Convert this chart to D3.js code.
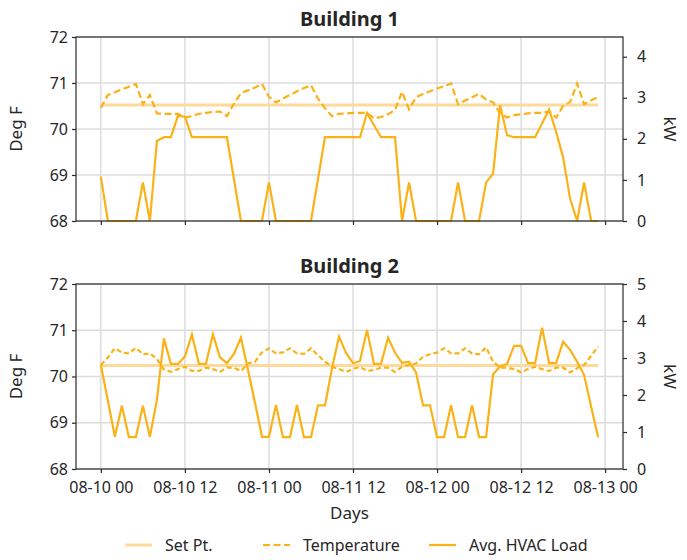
<!DOCTYPE html>
<html><head><meta charset="utf-8">
<script src="https://cdn.jsdelivr.net/npm/d3@7"></script>
<style>
body{margin:0;background:#fff}
text{font-family:"Noto Sans",sans-serif;fill:#262626}
</style>
</head><body>
<svg id="c" width="687" height="560"></svg>
<script>
// ---------- data ----------
const startTime = new Date(2021, 7, 10, 0, 0, 0); // 08-10 00, hourly samples
const xTickLabels = ["08-10 00", "08-10 12", "08-11 00", "08-11 12", "08-12 00", "08-12 12", "08-13 00"];
const titles = ["Building 1", "Building 2"];
const setPoint1 = 70.52;
const setPoint2 = 70.24;
const temp1 = [70.46,70.74,70.80,70.86,70.92,70.98,70.54,70.74,70.34,70.33,70.33,70.33,
  70.25,70.28,70.33,70.35,70.37,70.38,70.28,70.55,70.78,70.84,70.90,70.98,
  70.70,70.58,70.66,70.74,70.82,70.89,70.95,70.66,70.45,70.28,70.33,70.34,
  70.35,70.35,70.35,70.23,70.26,70.32,70.41,70.81,70.43,70.69,70.76,70.82,
  70.88,70.93,70.99,70.54,70.62,70.69,70.76,70.64,70.58,70.34,70.25,70.30,
  70.32,70.34,70.35,70.35,70.38,70.25,70.50,70.59,70.99,70.54,70.62,70.70];
const load1 = [1.08,0,0,0,0,0,0.94,0,1.95,2.04,2.04,2.56,
  2.54,2.04,2.04,2.04,2.04,2.04,2.04,1.02,0,0,0,0,
  0.94,0,0,0,0,0,0,1.02,2.04,2.04,2.04,2.04,
  2.04,2.04,2.63,2.33,2.04,2.04,2.04,0,0.94,0,0,0,
  0,0,0,0.94,0,0,0,0.94,1.15,2.82,2.09,2.04,
  2.04,2.04,2.04,2.38,2.71,2.17,1.55,0.54,0,0.94,0,0];
const temp2 = [70.25,70.41,70.61,70.52,70.50,70.62,70.48,70.50,70.38,70.15,70.10,70.16,
  70.21,70.12,70.12,70.19,70.16,70.10,70.19,70.19,70.12,70.28,70.32,70.52,
  70.61,70.50,70.52,70.61,70.50,70.49,70.61,70.46,70.32,70.21,70.16,70.10,
  70.16,70.21,70.12,70.14,70.19,70.19,70.10,70.21,70.25,70.28,70.43,70.48,
  70.52,70.61,70.50,70.50,70.61,70.50,70.48,70.63,70.32,70.19,70.19,70.16,
  70.09,70.16,70.21,70.16,70.12,70.19,70.19,70.09,70.18,70.25,70.45,70.65];
const load2 = [2.81,1.85,0.87,1.71,0.86,0.86,1.71,0.87,1.86,3.53,2.84,2.84,
  3.04,3.64,2.84,2.84,3.64,3.02,2.86,3.11,3.55,2.68,1.80,0.87,
  0.87,1.73,0.86,0.86,1.73,0.86,0.86,1.72,1.72,2.72,3.58,3.14,
  2.86,2.92,3.76,2.84,2.84,3.55,3.14,2.87,2.90,2.61,1.72,1.72,
  0.86,0.86,1.72,0.86,0.86,1.72,0.86,0.86,2.56,2.77,2.84,3.33,
  3.33,2.86,2.86,3.82,2.86,2.86,3.44,3.22,2.90,2.54,1.68,0.86];
const degTicks = [68, 69, 70, 71, 72];
const kwTicks1 = [0, 1, 2, 3, 4];
const kwTicks2 = [0, 1, 2, 3, 4, 5];
const legendLabels = ["Set Pt.", "Temperature", "Avg. HVAC Load"];

// ---------- styling ----------
const C_LOAD = "#FBB217", C_SET = "#FDDA9C", C_GRID = "#dcdcdc", C_AX = "#2a2a2a";
const L = 76, R = 623;
const panels = [
  {top: 37, bottom: 221, temp: temp1, load: load1, sp: setPoint1, kwMax: 4.48, kwTicks: kwTicks1, dash: "7,3.5", title: titles[0]},
  {top: 284, bottom: 469, temp: temp2, load: load2, sp: setPoint2, kwMax: 5, kwTicks: kwTicks2, dash: "5,3", title: titles[1]}
];

const hour = 3600e3;
const times = temp1.map((_, i) => new Date(+startTime + i * hour));
const x = d3.scaleTime()
  .domain([new Date(+startTime - 3.55 * hour), new Date(+startTime + 74.55 * hour)])
  .range([L, R]);
const tickDates = xTickLabels.map((_, i) => new Date(+startTime + i * 12 * hour));

const svg = d3.select("#c");

panels.forEach((p, pi) => {
  const y = d3.scaleLinear().domain([68, 72]).range([p.bottom, p.top]);
  const yk = d3.scaleLinear().domain([0, p.kwMax]).range([p.bottom, p.top]);
  const g = svg.append("g");

  // grid
  g.append("g").selectAll("line").data(tickDates).join("line")
    .attr("x1", d => x(d)).attr("x2", d => x(d)).attr("y1", p.top).attr("y2", p.bottom)
    .attr("stroke", C_GRID).attr("stroke-width", 1.5);
  g.append("g").selectAll("line").data(degTicks).join("line")
    .attr("x1", L).attr("x2", R).attr("y1", d => y(d)).attr("y2", d => y(d))
    .attr("stroke", C_GRID).attr("stroke-width", 1.5);

  // set point
  g.append("line").attr("x1", x(times[0])).attr("x2", x(times[times.length - 1]))
    .attr("y1", y(p.sp)).attr("y2", y(p.sp))
    .attr("stroke", C_SET).attr("stroke-width", 3);

  // temperature
  g.append("path").datum(p.temp)
    .attr("d", d3.line().x((d, i) => x(times[i])).y(d => y(d)))
    .attr("fill", "none").attr("stroke", C_LOAD).attr("stroke-width", 2.2)
    .attr("stroke-dasharray", p.dash);

  // load
  g.append("path").datum(p.load)
    .attr("d", d3.line().x((d, i) => x(times[i])).y(d => yk(d)))
    .attr("fill", "none").attr("stroke", C_LOAD).attr("stroke-width", 2.2)
    .attr("stroke-linejoin", "miter");

  // frame
  g.append("rect").attr("x", L).attr("y", p.top).attr("width", R - L).attr("height", p.bottom - p.top)
    .attr("fill", "none").attr("stroke", C_AX).attr("stroke-width", 1.2);

  // axes
  const ax = g.append("g").attr("transform", `translate(${L},0)`)
    .call(d3.axisLeft(y).tickValues(degTicks).tickSize(4).tickPadding(4).tickFormat(d3.format("d")));
  const ar = g.append("g").attr("transform", `translate(${R},0)`)
    .call(d3.axisRight(yk).tickValues(p.kwTicks).tickSize(4).tickPadding(10).tickFormat(d3.format("d")));
  const ab = g.append("g").attr("transform", `translate(0,${p.bottom})`)
    .call(d3.axisBottom(x).tickValues(tickDates).tickSize(4).tickPadding(9)
      .tickFormat((d, i) => pi === 1 ? xTickLabels[i] : ""));
  [ax, ar, ab].forEach(a => {
    a.select(".domain").remove();
    a.selectAll("line").attr("stroke", C_AX).attr("stroke-width", 1.2);
    a.selectAll("text").attr("font-size", 16).attr("fill", "#262626").style("font-family", '"Noto Sans",sans-serif');
  });

  // titles / labels
  g.append("text").attr("x", (L + R) / 2).attr("y", p.top - 11).attr("text-anchor", "middle")
    .attr("font-size", 20).attr("font-weight", "bold").text(p.title);
  const cy = (p.top + p.bottom) / 2;
  g.append("text").attr("transform", `translate(22,${cy}) rotate(-90)`).attr("text-anchor", "middle")
    .attr("font-size", 17).text("Deg F");
  g.append("text").attr("transform", `translate(664,${cy}) rotate(90)`).attr("text-anchor", "middle")
    .attr("font-size", 17).text("kW");
});

svg.append("text").attr("x", (L + R) / 2).attr("y", 519).attr("text-anchor", "middle")
  .attr("font-size", 17).text("Days");

// legend
const legX = [125, 263, 429];
const lg = svg.append("g");
legendLabels.forEach((t, i) => {
  const ln = lg.append("line").attr("x1", legX[i]).attr("x2", legX[i] + 27).attr("y1", 545).attr("y2", 545)
    .attr("stroke", i === 0 ? C_SET : C_LOAD).attr("stroke-width", i === 0 ? 3 : 2.2);
  if (i === 1) ln.attr("stroke-dasharray", "7,3.5");
  lg.append("text").attr("x", legX[i] + 40).attr("y", 551).attr("font-size", 16).text(t);
});
</script>
</body></html>
